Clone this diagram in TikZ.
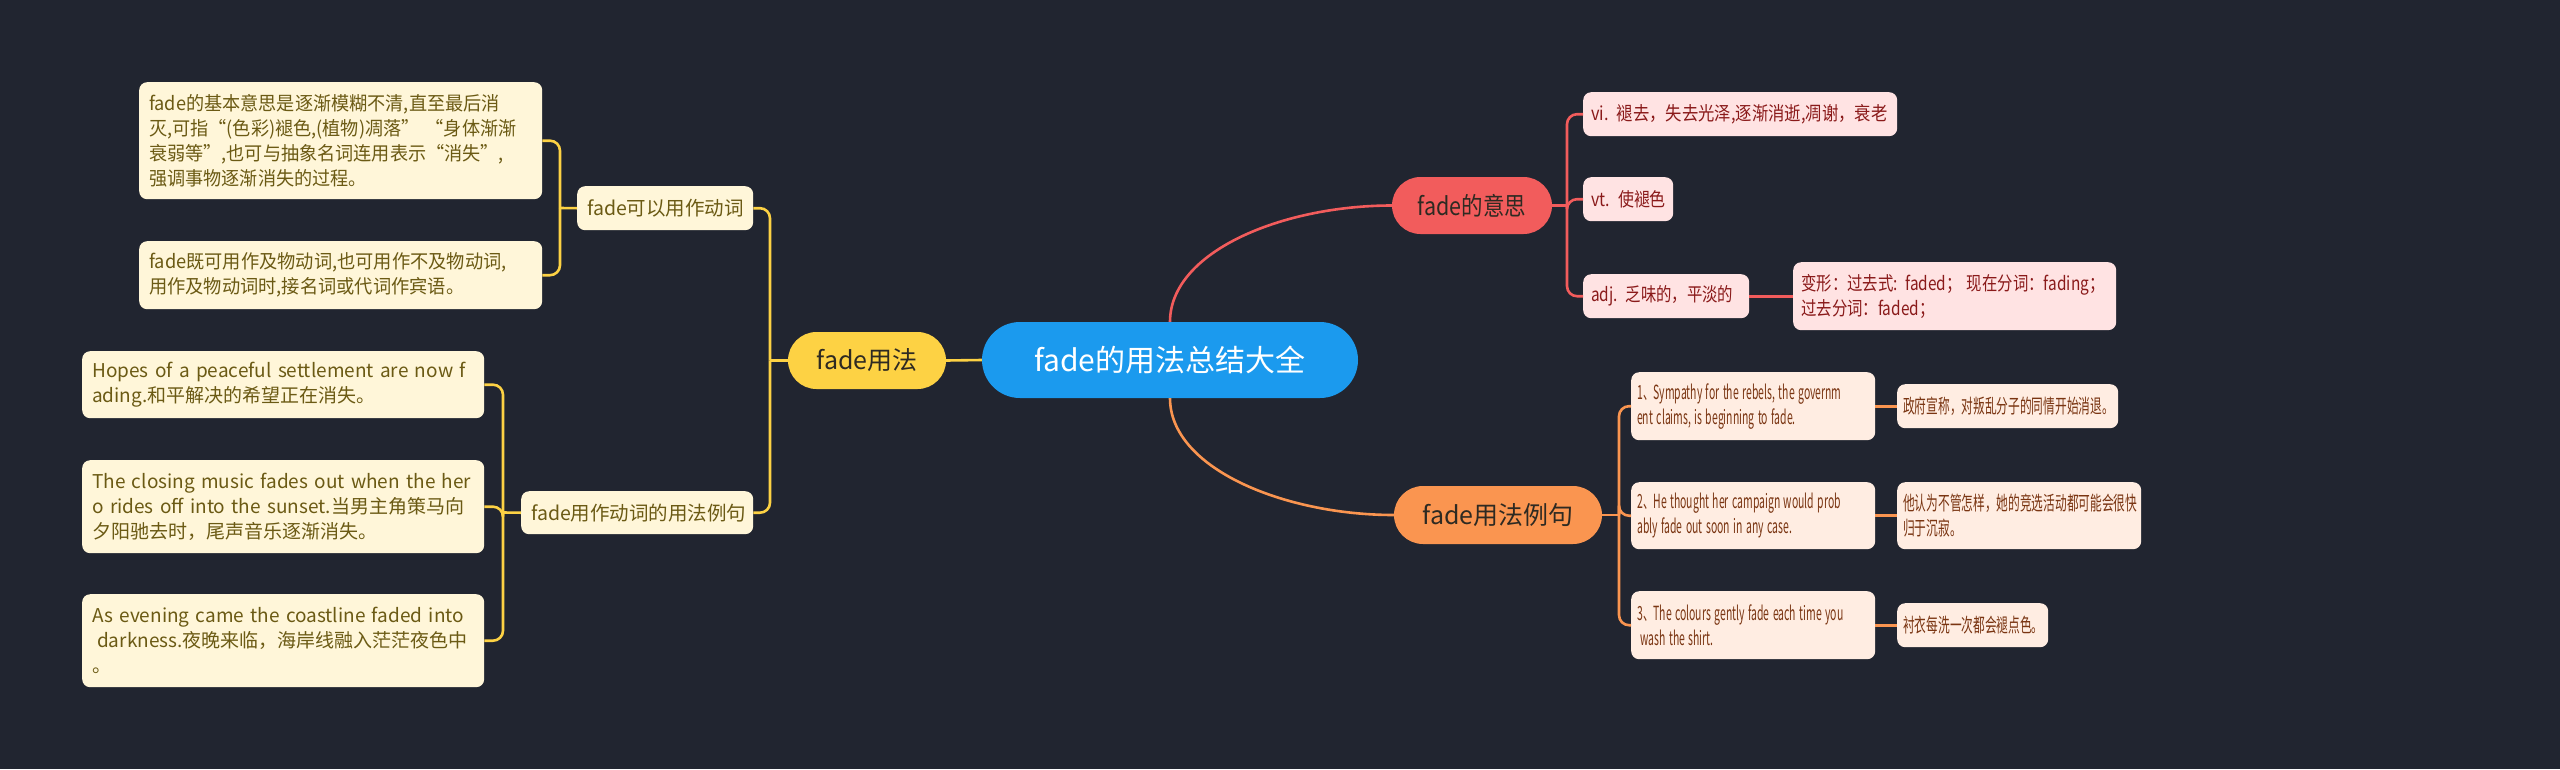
\documentclass[tikz,border=0pt]{standalone}
\usepackage{fontspec}
\setmainfont{Noto Sans CJK SC}
\newfontfamily\fy{Noto Sans CJK SC}
\newfontfamily\fr{Noto Sans CJK SC}[FakeStretch=0.86]
\usetikzlibrary{shapes.misc,calc}
\newcommand\hs[2]{\mbox{\scalebox{#1}[1]{#2}}}
\definecolor{bg}{HTML}{212530}
\definecolor{rootblue}{HTML}{1B9AEE}
\definecolor{ybr}{HTML}{FDD244}
\definecolor{yleafc}{HTML}{FFF6D9}
\definecolor{ytext}{HTML}{6B5A14}
\definecolor{rbr}{HTML}{F25C5C}
\definecolor{rleafc}{HTML}{FFE3E3}
\definecolor{rtext}{HTML}{8A1A1A}
\definecolor{obr}{HTML}{FA9550}
\definecolor{oleafc}{HTML}{FFEDE2}
\definecolor{otext}{HTML}{7A3512}
\definecolor{darktext}{HTML}{2E2A22}
\tikzset{
  pill/.style={rounded rectangle, inner sep=0pt, anchor=center},
  yleaf/.style={anchor=north west, inner xsep=10pt, inner ysep=0pt, fill=yleafc, rounded corners=8pt, align=left, text=ytext, font=\fy\fontsize{19}{25}\selectfont},
  rleaf/.style={anchor=north west, inner xsep=8pt, inner ysep=0pt, fill=rleafc, rounded corners=8pt, align=left, text=rtext, font=\fy\fontsize{19}{25}\selectfont},
  oleaf/.style={anchor=north west, inner xsep=6pt, inner ysep=0pt, fill=oleafc, rounded corners=8pt, align=left, text=otext, font=\fy\fontsize{19.5}{25}\selectfont},
  yline/.style={draw=ybr, line width=2.6pt, rounded corners=10pt},
  rline/.style={draw=rbr, line width=2.6pt, rounded corners=10pt},
  oline/.style={draw=obr, line width=2.6pt, rounded corners=10pt},
}
\begin{document}
\begin{tikzpicture}[x=1pt,y=-1pt]
\useasboundingbox (0,0) rectangle (2560,769);
\fill[bg] (0,0) rectangle (2560,769);

% central and branch nodes
\node[pill, fill=rootblue, text=white, minimum width=376pt, minimum height=76pt, font=\fy\fontsize{30}{36}\selectfont] (root) at (1170,360) {fade的用法总结大全};
\node[pill, fill=ybr, text=darktext, minimum width=158pt, minimum height=57pt, font=\fy\fontsize{25}{30}\selectfont] (Y) at (867,360.5) {fade用法};
\node[pill, fill=rbr, text=darktext, minimum width=160pt, minimum height=57pt, font=\fr\fontsize{25}{30}\selectfont] (R) at (1472,205.5) {fade的意思};
\node[pill, fill=obr, text=darktext, minimum width=208pt, minimum height=58pt, font=\fy\fontsize{25}{30}\selectfont] (O) at (1498,515) {fade用法例句};

% yellow group
\node[yleaf, text width=156pt, minimum height=44pt, font=\fy\fontsize{19.5}{25}\selectfont] (Y1) at (577,186) {\mbox{fade可以用作动词}};
\node[yleaf, text width=212pt, minimum height=43pt, font=\fy\fontsize{19.5}{25}\selectfont] (Y2) at (521,491) {\mbox{fade用作动词的用法例句}};
\node[yleaf, text width=383pt, minimum height=117pt] (L1) at (139,82) {\hs{0.955}{fade的基本意思是逐渐模糊不清,直至最后消}\\\hs{0.955}{灭,可指“(色彩)褪色,(植物)凋落”\ “身体渐渐}\\\hs{0.955}{衰弱等”,也可与抽象名词连用表示“消失”,}\\\hs{0.955}{强调事物逐渐消失的过程。}};
\node[yleaf, text width=383pt, minimum height=68pt] (L2) at (139,241) {\hs{0.96}{fade既可用作及物动词,也可用作不及物动词,}\\\hs{0.96}{用作及物动词时,接名词或代词作宾语。}};
\node[yleaf, text width=382pt, minimum height=67pt] (L3) at (82,351) {\mbox{Hopes of a peaceful settlement are now f}\\\mbox{ading.和平解决的希望正在消失。}};
\node[yleaf, text width=382pt, minimum height=93pt] (L4) at (82,460) {\mbox{The closing music fades out when the her}\\\mbox{o rides off into the sunset.当男主角策马向}\\\mbox{夕阳驰去时，尾声音乐逐渐消失。}};
\node[yleaf, text width=382pt, minimum height=93pt] (L5) at (82,594) {\mbox{As evening came the coastline faded into}\\\mbox{\hspace*{5pt}darkness.夜晚来临，海岸线融入茫茫夜色中}\\\mbox{。}};

% red group
\node[rleaf, text width=298pt, minimum height=44pt] (R1) at (1583,92) {\hs{0.86}{vi. 褪去，失去光泽,逐渐消逝,凋谢，衰老}};
\node[rleaf, text width=74pt, minimum height=44pt] (R2) at (1583,177) {\hs{0.84}{vt. 使褪色}};
\node[rleaf, text width=150pt, minimum height=44pt] (R3) at (1583,274) {\hs{0.81}{adj. 乏味的，平淡的}};
\node[rleaf, text width=307pt, minimum height=68pt] (R31) at (1793,262) {\hs{0.81}{变形：过去式: faded；\ 现在分词：fading；}\\\hs{0.81}{过去分词：faded；}};

% orange group
\node[oleaf, text width=232pt, minimum height=68pt] (O1) at (1631,372) {\hs{0.535}{1、Sympathy for the rebels, the governm}\\\hs{0.535}{ent claims, is beginning to fade.}};
\node[oleaf, text width=232pt, minimum height=67pt] (O2) at (1631,482) {\hs{0.535}{2、He thought her campaign would prob}\\\hs{0.535}{ably fade out soon in any case.}};
\node[oleaf, text width=232pt, minimum height=68pt] (O3) at (1631,591) {\hs{0.535}{3、The colours gently fade each time you}\\\hs{0.535}{\hspace*{6pt}wash the shirt.}};
\node[oleaf, text width=209pt, minimum height=44pt] (T1) at (1897,384) {\hs{0.6}{政府宣称，对叛乱分子的同情开始消退。}};
\node[oleaf, text width=232pt, minimum height=67pt] (T2) at (1897,482) {\hs{0.6}{他认为不管怎样，她的竞选活动都可能会很快}\\\hs{0.6}{归于沉寂。}};
\node[oleaf, text width=139pt, minimum height=44pt] (T3) at (1897,603) {\hs{0.6}{衬衣每洗一次都会褪点色。}};

% junctions
\coordinate (yj) at (770,360.5);
\coordinate (y1j) at (560,208);
\coordinate (y2j) at (503,512.5);
\coordinate (rj) at (1567,205.5);
\coordinate (oj) at (1619,515);

% root connectors
\draw[yline] (root.west) -- (Y.east);
\draw[draw=rbr, line width=2.6pt] (root.north) .. controls ($(root.north)+(0,-70)$) and ($(R.west)+(-110,0)$) .. (R.west);
\draw[draw=obr, line width=2.6pt] (root.south) .. controls ($(root.south)+(0,70)$) and ($(O.west)+(-110,0)$) .. (O.west);

% yellow connectors
\draw[yline] (Y.west) -- (yj);
\draw[yline] (yj) |- (Y1.east);
\draw[yline] (yj) |- (Y2.east);
\draw[yline] (Y1.west) -- (y1j);
\draw[yline] (y1j) |- (L1.east);
\draw[yline] (y1j) |- (L2.east);
\draw[yline] (Y2.west) -- (y2j);
\draw[yline] (y2j) |- (L3.east);
\draw[yline] (y2j) |- (L4.east);
\draw[yline] (y2j) |- (L5.east);

% red connectors
\draw[rline] (R.east) -- (rj);
\draw[rline] (rj) |- (R1.west);
\draw[rline] (rj) |- (R2.west);
\draw[rline] (rj) |- (R3.west);
\draw[rline] (R3.east) -- (R31.west);

% orange connectors
\draw[oline] (O.east) -- (oj);
\draw[oline] (oj) |- (O1.west);
\draw[oline] (oj) |- (O2.west);
\draw[oline] (oj) |- (O3.west);
\draw[oline] (O1.east) -- (T1.west);
\draw[oline] (O2.east) -- (T2.west);
\draw[oline] (O3.east) -- (T3.west);
\end{tikzpicture}
\end{document}
